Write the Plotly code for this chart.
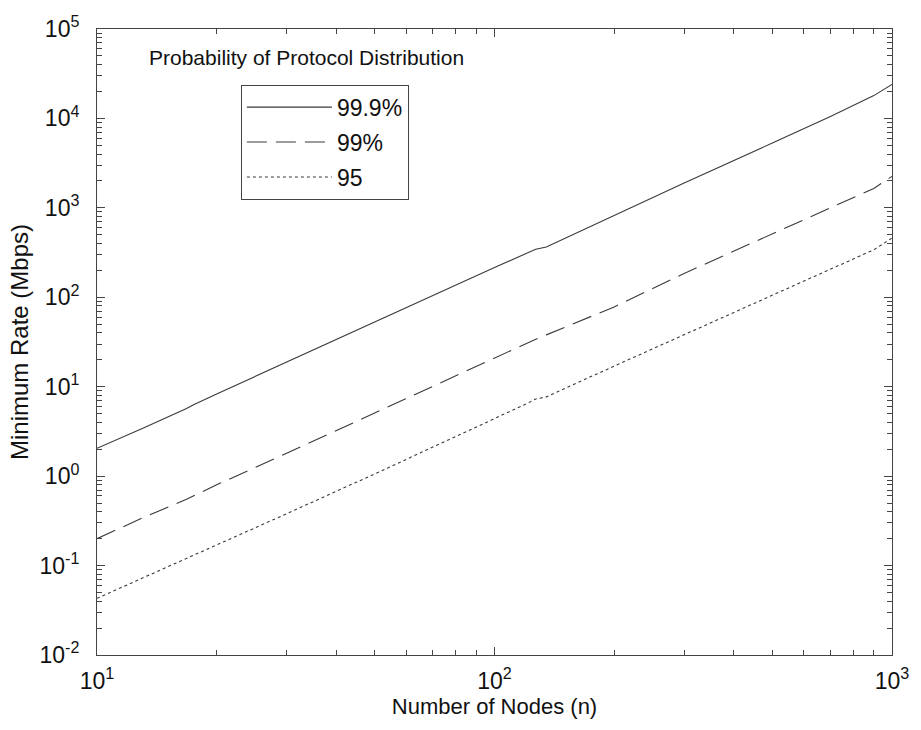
import plotly.graph_objects as go

# ---- data ----
nodes = [10, 13, 16.8, 17.5, 20, 30, 50, 70, 100, 120, 127, 135, 200, 300, 500, 700, 900, 1000]
rate_999 = [2.05, 3.4, 5.7, 6.3, 8.3, 19, 53, 105, 215, 310, 345, 365, 830, 1900, 5300, 10500, 18000, 24000]
rate_99 = [0.20, 0.34, 0.55, 0.60, 0.80, 1.8, 5.1, 10.2, 21, 30, 34, 38, 78, 185, 510, 1000, 1650, 2250]
rate_95 = [0.043, 0.072, 0.12, 0.13, 0.17, 0.38, 1.06, 2.1, 4.4, 6.4, 7.3, 7.7, 17, 38, 105, 205, 340, 460]
series_names = ["99.9%", "99%", "95"]
y_exponents = [-2, -1, 0, 1, 2, 3, 4, 5]
x_exponents = [1, 2, 3]

FONT = "Liberation Sans, Arial, sans-serif"
LINE = "#3a3a3a"

fig = go.Figure()
for i, (name, vals, dash) in enumerate(zip(series_names, [rate_999, rate_99, rate_95],
                                           ["solid", "20px,9px", "3px,3px"])):
    fig.add_trace(go.Scatter(x=nodes, y=vals, mode="lines", name=name,
                             legendgroup=f"g{i}",
                             line=dict(color=LINE, width=1.1, dash=dash)))

def minor_vals(exps):
    out = []
    for e in exps[:-1]:
        out += [m * 10 ** e for m in range(2, 10)]
    return out

axis_common = dict(
    type="log", showgrid=False, zeroline=False, showline=True, linecolor="#444",
    linewidth=1, mirror="allticks", ticks="inside", ticklen=8, tickcolor="#444",
    tickfont=dict(family=FONT, size=23, color="#111"),
    tickmode="array",
)

fig.update_xaxes(
    **axis_common,
    range=[1, 3],
    tickvals=[10 ** e for e in x_exponents],
    ticktext=[f"10<sup>{e}</sup>" for e in x_exponents],
    ticklabelstandoff=5,
    minor=dict(tickmode="array", tickvals=minor_vals(x_exponents), ticks="inside",
               ticklen=5, tickcolor="#444", showgrid=False),
    title=dict(text="Number of Nodes (n)", font=dict(family=FONT, size=22, color="#111"),
               standoff=6),
)
fig.update_yaxes(
    **axis_common,
    range=[-2, 5],
    tickvals=[10 ** e for e in y_exponents],
    ticktext=[f"10<sup>{e}</sup>" for e in y_exponents],
    ticklabelstandoff=12,
    minor=dict(tickmode="array", tickvals=minor_vals(y_exponents), ticks="inside",
               ticklen=5, tickcolor="#444", showgrid=False),
    title=dict(text="Minimum Rate (Mbps)", font=dict(family=FONT, size=24, color="#111"),
               standoff=4),
)

fig.add_annotation(text="Probability of Protocol Distribution", xref="paper", yref="paper",
                   x=0.063, y=0.955, xanchor="left", yanchor="middle", showarrow=False,
                   font=dict(family=FONT, size=21, color="#111"))

fig.update_layout(
    width=921, height=730,
    margin=dict(l=97, r=21, t=28, b=75),
    plot_bgcolor="white", paper_bgcolor="white",
    legend=dict(x=0.181, y=0.911, xanchor="left", yanchor="top",
                bordercolor="#444", borderwidth=1, bgcolor="white",
                font=dict(family=FONT, size=23, color="#111"),
                itemwidth=85, tracegroupgap=2),
)

fig.write_html("out.html")
